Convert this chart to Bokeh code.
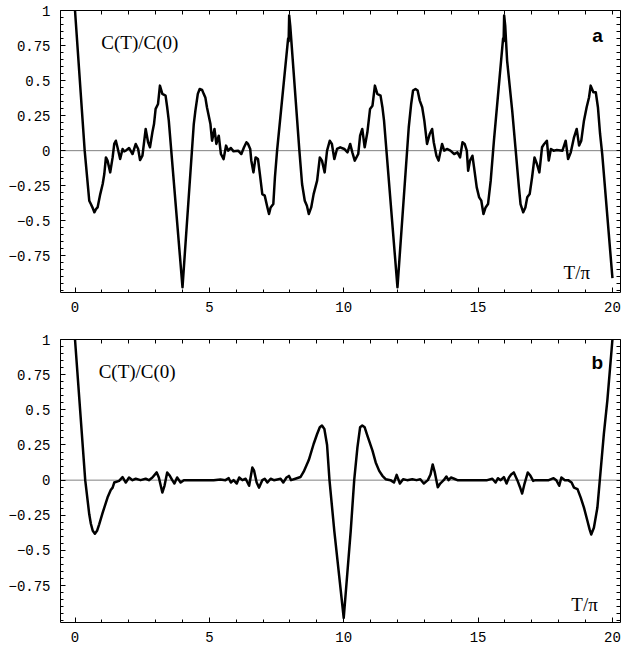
from bokeh.plotting import figure
from bokeh.models import FixedTicker, LinearAxis, Range1d, Label, Span
from bokeh.layouts import column
from bokeh.embed import file_html
from bokeh.resources import INLINE

# ---- data: panel a ----
T_a = [0.0, 0.36, 0.53, 0.59, 0.66, 0.72, 0.78, 0.84, 0.94, 1.03, 1.09, 1.15, 1.21, 1.31,
       1.40, 1.46, 1.52, 1.58, 1.68, 1.77, 1.83, 1.89, 2.01, 2.14, 2.26, 2.35, 2.42, 2.51,
       2.63, 2.72, 2.79, 2.88, 2.94, 3.00, 3.09, 3.16, 3.25, 3.37, 3.43, 3.49, 4.00,
       4.42, 4.48, 4.57, 4.64, 4.73, 4.79, 4.85, 4.91, 5.04, 5.10, 5.19, 5.26, 5.35, 5.43,
       5.53, 5.62, 5.70, 5.80, 5.90, 6.07, 6.19, 6.29, 6.38, 6.44, 6.52, 6.56, 6.64, 6.72,
       6.81, 6.88, 6.97, 7.06, 7.16, 7.22, 7.28, 7.38, 7.44, 7.52, 7.93, 7.95, 7.97, 8.01,
       8.35, 8.45, 8.55, 8.63, 8.70, 8.79, 8.88, 9.01, 9.11, 9.19, 9.29, 9.38, 9.48, 9.56,
       9.65, 9.75, 9.87, 10.02, 10.14, 10.24, 10.32, 10.41, 10.54, 10.61, 10.69, 10.78,
       10.88, 10.98, 11.07, 11.16, 11.25, 11.37, 11.44, 11.50, 12.00,
       12.42, 12.51, 12.58, 12.67, 12.75, 12.83, 12.92, 13.00, 13.10, 13.20, 13.29, 13.35,
       13.45, 13.53, 13.66, 13.74, 13.84, 13.97, 14.11, 14.23, 14.33, 14.42, 14.50, 14.58,
       14.63, 14.70, 14.79, 14.85, 14.95, 15.04, 15.12, 15.20, 15.28, 15.37, 15.47, 15.59,
       15.93, 15.95, 15.97, 16.01, 16.08, 16.27, 16.39, 16.52, 16.58, 16.68, 16.76, 16.83,
       16.92, 17.01, 17.10, 17.19, 17.28, 17.38, 17.46, 17.56, 17.63, 17.71, 17.81, 17.93,
       18.14, 18.26, 18.35, 18.45, 18.57, 18.67, 18.76, 18.84, 18.94, 19.04, 19.13, 19.19,
       19.29, 19.38, 19.46, 19.54, 19.62, 20.0]
C_a = [1.0, 0.0, -0.357, -0.381, -0.41, -0.44, -0.417, -0.405, -0.31, -0.238, -0.167, -0.048,
       -0.071, -0.155, -0.048, 0.048, 0.071, 0.024, -0.06, 0.012, -0.005, 0.0, 0.019, -0.024,
       0.048, 0.012, -0.067, -0.036, 0.155, 0.06, 0.024, 0.131, 0.19, 0.298, 0.333, 0.464,
       0.405, 0.393, 0.31, 0.214, -0.975,
       0.19, 0.286, 0.405, 0.44, 0.433, 0.405, 0.38, 0.31, 0.19, 0.071, 0.155, 0.048, 0.107,
       -0.024, -0.06, 0.036, 0.0, 0.019, -0.005, 0.0, -0.024, 0.024, 0.06, 0.048, 0.012,
       -0.07, -0.155, -0.048, -0.06, -0.167, -0.31, -0.321, -0.405, -0.452, -0.405, -0.381,
       -0.19, 0.0, 0.80, 0.78, 0.965, 0.89,
       0.0, -0.238, -0.357, -0.393, -0.452, -0.405, -0.31, -0.214, -0.048, -0.071, -0.155,
       0.0, 0.071, 0.048, -0.06, 0.012, 0.024, 0.012, -0.012, 0.048, -0.012, -0.071, -0.024,
       0.107, 0.155, 0.024, 0.131, 0.298, 0.321, 0.464, 0.405, 0.393, 0.31, 0.214, -0.975,
       0.167, 0.333, 0.429, 0.44, 0.429, 0.357, 0.31, 0.214, 0.048, 0.119, 0.155, 0.06,
       -0.036, -0.071, 0.048, 0.0, 0.012, 0.0, -0.024, -0.012, -0.048, 0.06, 0.048, 0.0,
       -0.143, -0.071, -0.036, -0.119, -0.262, -0.333, -0.357, -0.452, -0.405, -0.381,
       -0.214, 0.071, 0.80, 0.78, 0.965, 0.89, 0.643, 0.286, 0.024, -0.262, -0.381, -0.44,
       -0.405, -0.333, -0.31, -0.19, -0.048, -0.095, -0.155, 0.024, 0.048, 0.071, -0.071,
       0.012, 0.0, 0.005, 0.0, 0.071, -0.06, -0.012, 0.095, 0.155, 0.036, 0.071, 0.214,
       0.31, 0.381, 0.464, 0.417, 0.417, 0.31, 0.119, -0.024, -0.91]

# ---- data: panel b ----
T_b = [0.0, 0.38, 0.53, 0.59, 0.66, 0.74, 0.82, 0.90, 1.03, 1.21, 1.33, 1.40, 1.46, 1.64,
       1.77, 1.89, 2.01, 2.14, 2.26, 2.44, 2.63, 2.75, 2.88, 3.04, 3.12, 3.25, 3.33, 3.43,
       3.53, 3.62, 3.70, 3.80, 3.93, 4.05, 4.23, 4.67, 5.16, 5.41, 5.60, 5.72, 5.80, 5.90,
       6.02, 6.11, 6.23, 6.35, 6.48, 6.60, 6.66, 6.76, 6.85, 6.97, 7.06, 7.16, 7.28, 7.40,
       7.53, 7.65, 7.75, 7.87, 7.96, 8.04, 8.20, 8.39, 8.51, 8.70, 8.88, 9.01, 9.11, 9.19,
       9.28, 9.38, 9.47, 9.65, 10.0,
       10.26, 10.39, 10.51, 10.61, 10.69, 10.78, 10.88, 11.07, 11.19, 11.32, 11.44, 11.56,
       11.74, 11.87, 11.97, 12.09, 12.21, 12.36, 12.55, 12.71, 12.85, 12.98, 13.13, 13.23,
       13.31, 13.39, 13.50, 13.59, 13.72, 13.82, 13.90, 13.99, 14.11, 14.23, 14.42, 15.34,
       15.53, 15.65, 15.74, 15.84, 15.96, 16.06, 16.15, 16.23, 16.33, 16.46, 16.56, 16.64,
       16.73, 16.85, 16.95, 17.05, 17.13, 17.26, 17.44, 17.63, 17.81, 17.91, 18.02, 18.10,
       18.23, 18.35, 18.48, 18.57, 18.70, 18.82, 18.94, 19.07, 19.15, 19.21, 19.31, 19.44,
       19.53, 19.68, 19.81, 20.0]
C_b = [1.0, 0.0, -0.243, -0.31, -0.36, -0.381, -0.36, -0.314, -0.231, -0.124, -0.07, -0.053,
       -0.017, -0.005, 0.022, -0.017, 0.019, 0.0, 0.01, 0.0, 0.01, 0.0, 0.019, 0.055, 0.019,
       -0.088, -0.04, 0.055, 0.031, 0.0, -0.024, 0.019, -0.017, 0.0, 0.0, 0.0, 0.0, 0.005,
       0.0, 0.014, -0.017, 0.0, -0.024, 0.019, 0.0, 0.01, -0.04, 0.09, 0.07, -0.017, -0.053,
       0.0, 0.01, -0.017, 0.01, 0.0, 0.005, 0.01, -0.017, 0.019, 0.03, 0.0, 0.01, 0.022,
       0.06, 0.143, 0.257, 0.328, 0.376, 0.388, 0.364, 0.25, 0.0, -0.362, -0.98,
       -0.362, 0.0, 0.233, 0.376, 0.388, 0.376, 0.316, 0.21, 0.126, 0.066, 0.031, 0.007,
       0.0, -0.017, 0.038, -0.024, 0.007, 0.0, 0.007, 0.0, 0.007, -0.024, 0.0, 0.04, 0.112,
       0.055, -0.05, -0.024, 0.0, 0.026, 0.0, 0.019, 0.01, 0.0, 0.0, 0.0, 0.01, -0.017,
       0.014, 0.0, 0.022, -0.024, 0.019, 0.04, 0.055, 0.0, -0.05, -0.095, -0.024, 0.055,
       0.031, -0.005, 0.0, 0.0, 0.0, 0.0, 0.014, 0.0, -0.04, 0.019, 0.0, 0.0, -0.017,
       -0.053, -0.064, -0.124, -0.195, -0.29, -0.35, -0.386, -0.338, -0.195, 0.0, 0.328,
       0.566, 1.0]

# ---- ticks ----
y_major = [-0.75, -0.5, -0.25, 0, 0.25, 0.5, 0.75, 1]
y_labels = ["\u22120.75", "\u22120.5", "\u22120.25", "0", "0.25", "0.5", "0.75", "1"]
y_minor = [-1.0, -0.95, -0.9, -0.85, -0.8, -0.75, -0.7, -0.65, -0.6, -0.55, -0.5, -0.45,
           -0.4, -0.35, -0.3, -0.25, -0.2, -0.15, -0.1, -0.05, 0.0, 0.05, 0.1, 0.15, 0.2,
           0.25, 0.3, 0.35, 0.4, 0.45, 0.5, 0.55, 0.6, 0.65, 0.7, 0.75, 0.8, 0.85, 0.9,
           0.95, 1.0]
x_major = [0, 5, 10, 15, 20]
x_minor = [0, 1, 2, 3, 4, 5, 6, 7, 8, 9, 10, 11, 12, 13, 14, 15, 16, 17, 18, 19, 20]

TICK_FONT = "Liberation Mono"
SERIF = "Liberation Serif"


def style_axis(ax):
    ax.axis_line_color = "black"
    ax.axis_line_width = 1
    ax.major_tick_in = 5
    ax.major_tick_out = 0
    ax.minor_tick_in = 3
    ax.minor_tick_out = 0
    ax.major_tick_line_color = "black"
    ax.minor_tick_line_color = "black"
    ax.major_label_text_font = TICK_FONT
    ax.major_label_text_font_size = "14px"
    ax.major_label_text_color = "black"


def tick_only_axis(minor):
    # an axis with no major ticks (so no labels), only short inward ticks
    ax = LinearAxis(ticker=FixedTicker(ticks=[], minor_ticks=minor))
    ax.axis_line_color = "black"
    ax.axis_line_width = 1
    ax.minor_tick_in = 4
    ax.minor_tick_out = 0
    ax.minor_tick_line_color = "black"
    ax.major_label_standoff = 0
    return ax


def make_panel(T, C, tag, height, btop, bbot, lab_pos, tp_pos, tag_pos):
    p = figure(width=621, height=height,
               x_range=Range1d(-0.54, 20.30), y_range=Range1d(-1.012, 1.0),
               output_backend="svg", toolbar_location=None,
               min_border_left=60, min_border_right=1,
               min_border_top=btop, min_border_bottom=bbot)
    p.xgrid.visible = False
    p.ygrid.visible = False
    p.outline_line_color = None
    p.background_fill_color = "white"

    p.xaxis.ticker = FixedTicker(ticks=x_major, minor_ticks=x_minor)
    p.yaxis.ticker = FixedTicker(ticks=y_major, minor_ticks=y_minor)
    p.yaxis.major_label_overrides = {v: s for v, s in zip(y_major, y_labels)}
    style_axis(p.xaxis[0])
    style_axis(p.yaxis[0])
    p.xaxis.major_label_standoff = 9
    p.yaxis.major_label_standoff = 10

    p.add_layout(tick_only_axis(x_minor), "above")
    p.add_layout(tick_only_axis(y_minor), "right")

    p.add_layout(Span(location=0, dimension="width", line_color="#808080",
                      line_width=1, level="underlay"))

    p.line(T, C, line_color="black", line_width=2.5, line_join="round")

    p.add_layout(Label(x=lab_pos[0], y=lab_pos[1], text="C(T)/C(0)", text_font=SERIF,
                       text_font_size="19px", text_color="black",
                       text_baseline="alphabetic"))
    p.add_layout(Label(x=tp_pos[0], y=tp_pos[1], text="T/\u03c0", text_font=SERIF,
                       text_font_size="19px", text_color="black",
                       text_baseline="alphabetic"))
    p.add_layout(Label(x=tag_pos[0], y=tag_pos[1], text=tag, text_font="Liberation Sans",
                       text_font_size="19px", text_font_style="bold", text_color="black",
                       text_baseline="alphabetic"))
    return p


pa = make_panel(T_a, C_a, "a", 330, 10, 38, (0.98, 0.775), (18.18, -0.869), (19.25, 0.82))
pb = make_panel(T_b, C_b, "b", 318, 9, 26, (0.88, 0.774), (18.47, -0.881), (19.22, 0.838))

layout = column(pa, pb)
open("out.html", "w").write(file_html(layout, INLINE))
